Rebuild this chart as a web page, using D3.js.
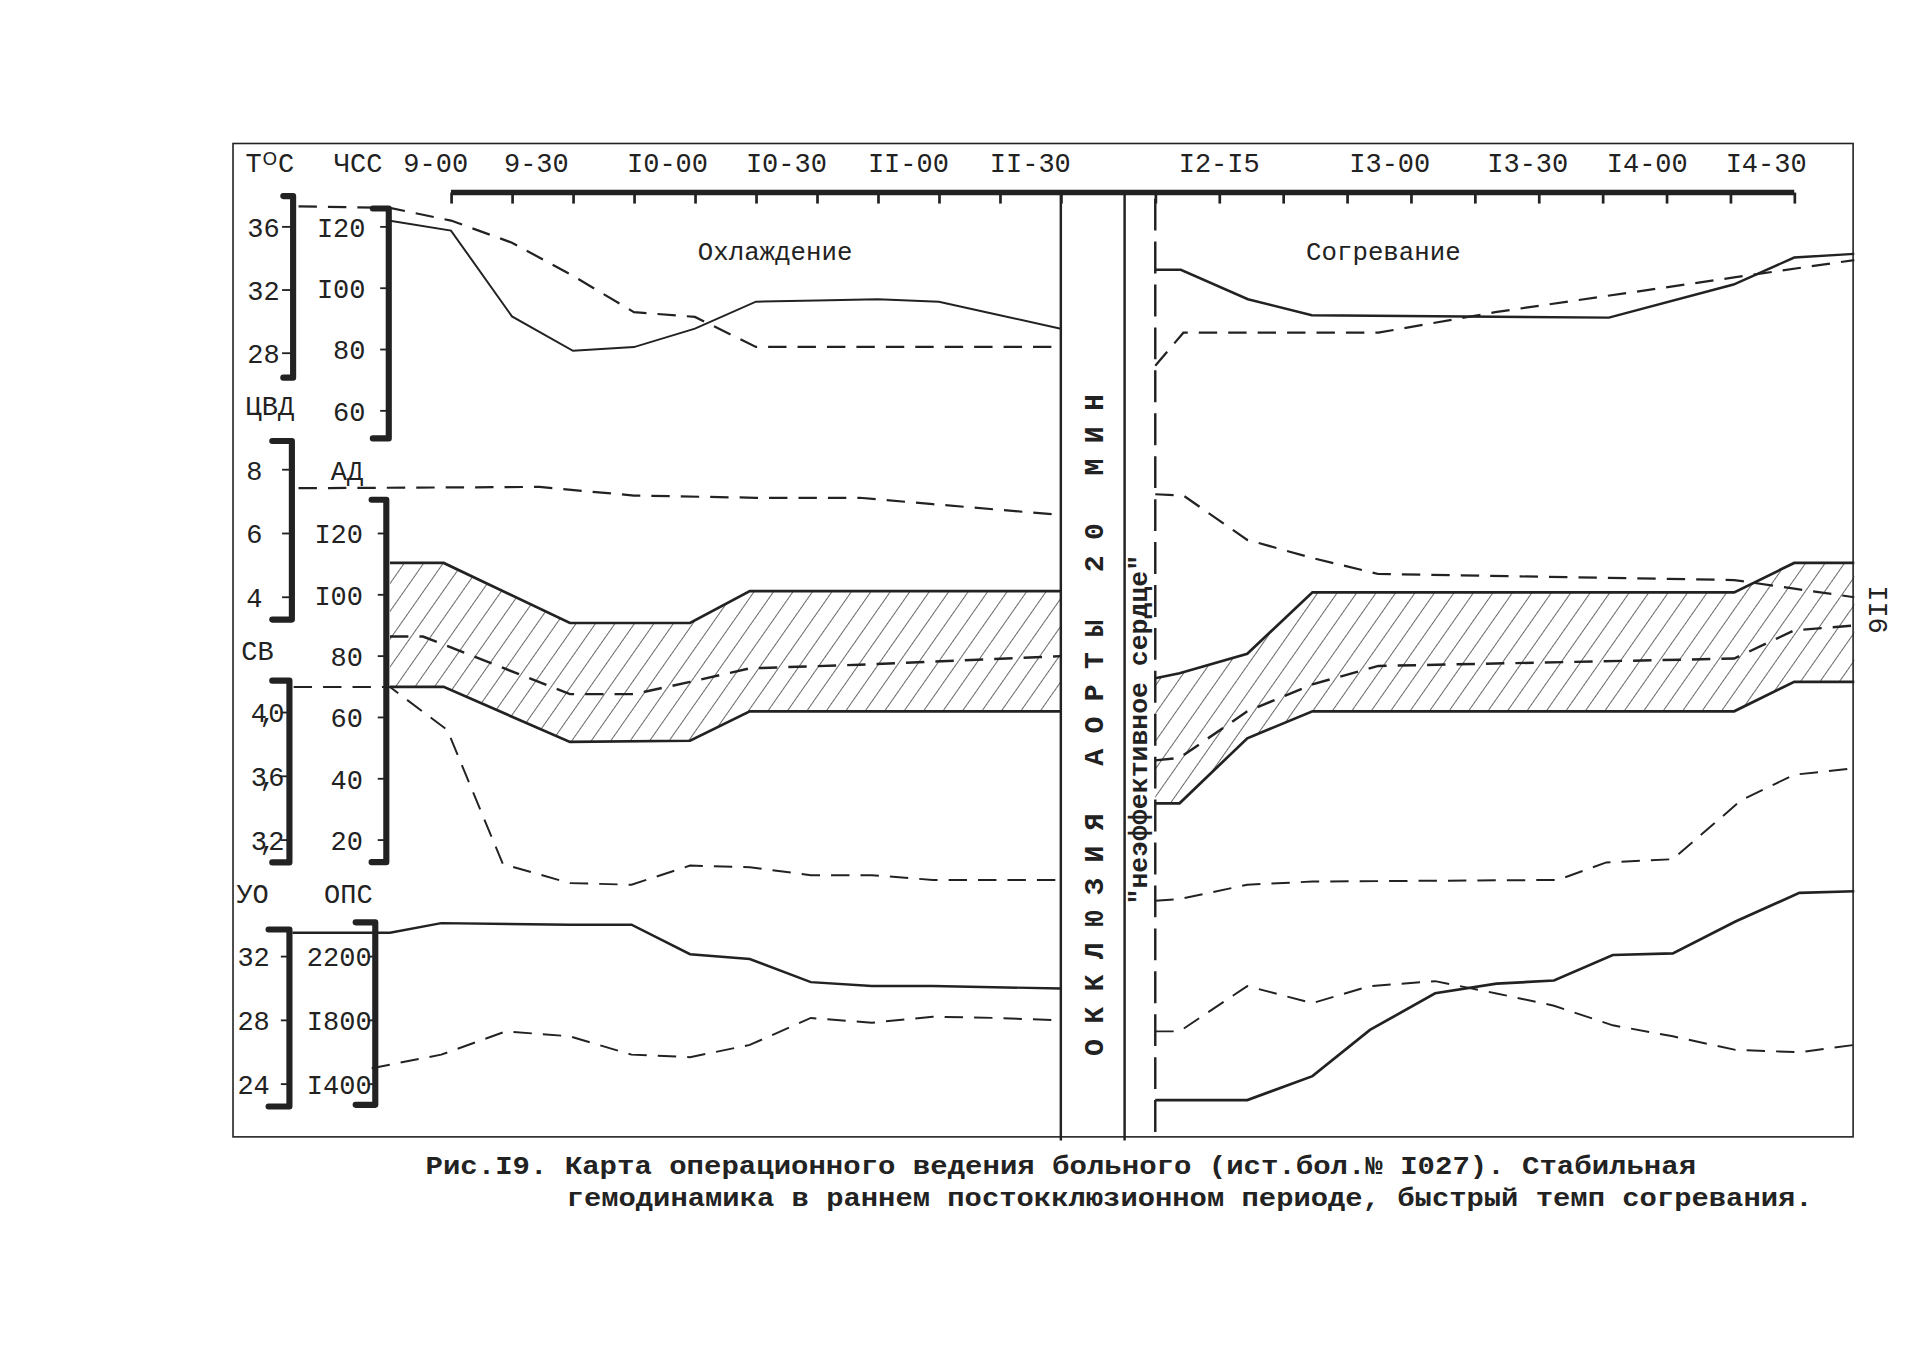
<!DOCTYPE html>
<html>
<head>
<meta charset="utf-8">
<script src="https://cdn.jsdelivr.net/npm/d3@7"></script>
<style>
  body { margin: 0; background: #fff; }
  text { font-family: "Liberation Mono", "DejaVu Sans Mono", monospace; fill: #222; }
</style>
</head>
<body>
<div id="chart"></div>
<script>
// ----- data (x in tick units of each time axis, y in each parameter's own units) -----
const timeLabelsLeft = [["9-00", -0.25], ["9-30", 1.4], ["I0-00", 3.55], ["I0-30", 5.5], ["II-00", 7.5], ["II-30", 9.5]];
const timeLabelsRight = [["I2-I5", 1.0], ["I3-00", 3.67], ["I3-30", 5.83], ["I4-00", 7.7], ["I4-30", 9.56]];

// ЧСС (solid) and T°C (dashed)
const hrLeft = [[-1,122],[0,118.8],[1,90.8],[2,79.6],[3,80.8],[4,86.8],[5,95.6],[6,96],[7,96.4],[8,95.6],[9,91.2],[10,86.8]];
const hrRight = [[0,106],[0.4,106],[1.45,96.4],[2.45,91.2],[7.1,90.4],[9.05,101.2],[10,110],[10.94,111.2]];
const tempLeft = [[-2.5,37.3],[-1,37.2],[0,36.4],[1,35.0],[2,32.9],[3,30.6],[4,30.3],[5,28.4],[10,28.4]];
const tempRight = [[0,27.2],[0.44,29.3],[3.49,29.3],[5.32,30.6],[9.06,32.8],[10.94,33.9]];

// ЦВД (dashed)
const cvpLeft = [[-2.5,7.42],[1.45,7.46],[3,7.19],[5,7.12],[6.7,7.12],[7.9,6.92],[10,6.58]];
const cvpRight = [[0,7.23],[0.44,7.19],[1.44,5.8],[2.46,5.23],[3.49,4.73],[9.06,4.54],[10,4.27],[10.94,4.0]];

// АД: systolic / diastolic band and mean (dashed)
const sysLeft = [[-1,110.4],[-0.12,110.4],[1.95,90.8],[3.92,90.8],[4.9,101.2],[10,101.2]];
const diaLeft = [[-1,70],[-0.12,70],[1.95,52],[3.92,52.4],[4.9,62],[10,62]];
const meanLeft = [[-1,86.4],[-0.46,86.4],[1.95,67.6],[3,67.6],[3.92,71.6],[4.9,76],[6.7,77.2],[10,80]];
const sysRight = [[0,72.8],[0.38,74.4],[1.44,80.8],[2.46,100.8],[9.06,100.8],[10,110.4],[10.94,110.4]];
const diaRight = [[0,32],[0.38,32],[1.44,53.2],[2.46,62],[9.06,62],[10,71.6],[10.94,71.6]];
const meanRight = [[0,46],[0.38,46.8],[1.44,62],[2.46,70.8],[3.49,76.8],[9.06,79.2],[10,88.4],[10.94,90]];

// СВ (dashed)
const svLeft = [[-2.58,41.6],[-1,41.6],[-0.06,38.9],[0.85,30.5],[1.95,29.3],[2.96,29.2],[3.92,30.4],[4.9,30.3],[5.9,29.8],[6.9,29.8],[7.9,29.5],[10,29.5]];
const svRight = [[0,28.2],[0.38,28.3],[1.44,29.2],[2.46,29.4],[6.3,29.5],[7.06,30.6],[8.1,30.8],[9.17,34.5],[10,36.1],[10.94,36.5]];

// УО (solid) and ОПС (dashed)
const svolLeft = [[-2.6,33.5],[-1,33.5],[-0.16,34.1],[1.95,34],[2.96,34],[3.92,32.15],[4.9,31.85],[5.9,30.4],[6.9,30.15],[7.9,30.15],[10,30]];
const svolRight = [[0,23],[1.44,23],[2.46,24.5],[3.36,27.4],[4.38,29.7],[5.34,30.3],[6.24,30.5],[7.16,32.1],[8.1,32.2],[9.08,34.2],[10.08,36],[10.94,36.1]];
const opsLeft = [[-1.3,1500],[-0.16,1585],[0.9,1731],[1.95,1700],[2.96,1585],[3.92,1569],[4.9,1646],[5.9,1815],[6.9,1785],[7.9,1823],[8.95,1815],[10,1800]];
const opsRight = [[0,1731],[0.38,1731],[1.44,2015],[2.46,1908],[3.36,2015],[4.38,2046],[5.34,1969],[6.24,1892],[7.16,1769],[8.1,1700],[9.08,1615],[10.08,1600],[10.94,1646]];

const caption1 = "Рис.I9. Карта операционного ведения больного (ист.бол.№ I027). Стабильная";
const caption2 = "гемодинамика в раннем постокклюзионном периоде, быстрый темп согревания.";

// ----- layout -----
const W = 1568, H = 1350 / (1923 / 1568);
const svg = d3.select("#chart").append("svg")
    .attr("width", 1923).attr("height", 1350)
    .attr("viewBox", `0 0 ${W} ${H}`);

const ink = "#222";
const xL = d3.scaleLinear().domain([-1, 10]).range([318, 865]);
const xR = d3.scaleLinear().domain([0, 10]).range([942, 1463]);

const yHR = d3.scaleLinear().domain([60, 120]).range([335, 185]);
const yT = d3.scaleLinear().domain([28, 36]).range([288, 185]);
const yCVP = d3.scaleLinear().domain([4, 8]).range([487, 383]);
const yBP = d3.scaleLinear().domain([20, 120]).range([685, 435]);
const ySV = d3.scaleLinear().domain([32, 40]).range([685, 581]);
const yUO = d3.scaleLinear().domain([24, 32]).range([884, 780]);
const yOPS = d3.scaleLinear().domain([1400, 2200]).range([884, 780]);

// hatch pattern
const defs = svg.append("defs");
defs.append("pattern")
    .attr("id", "hatch").attr("patternUnits", "userSpaceOnUse")
    .attr("width", 13).attr("height", 13)
    .attr("patternTransform", "rotate(35)")
    .append("line").attr("x1", 0).attr("y1", 0).attr("x2", 0).attr("y2", 13)
    .attr("stroke", ink).attr("stroke-width", 1.1);

// frame
svg.append("rect").attr("x", 190).attr("y", 117).attr("width", 1321).attr("height", 810)
    .attr("fill", "none").attr("stroke", ink).attr("stroke-width", 1.3);

// time axes
[xL, xR].forEach(x => {
    svg.append("g")
        .attr("transform", "translate(0,157)")
        .call(d3.axisBottom(x).tickValues(d3.range(0, 11)).tickSize(9).tickFormat(""))
        .call(g => g.select(".domain").remove())
        .call(g => g.selectAll("line").attr("stroke", ink).attr("stroke-width", 2.2));
});
svg.append("line").attr("x1", xL(0)).attr("x2", xR(10)).attr("y1", 157).attr("y2", 157)
    .attr("stroke", ink).attr("stroke-width", 4.5);

svg.selectAll(".tl").data(timeLabelsLeft).enter().append("text")
    .attr("x", d => xL(d[1])).attr("y", 140).attr("text-anchor", "middle")
    .attr("font-size", 22).text(d => d[0]);
svg.selectAll(".tr").data(timeLabelsRight).enter().append("text")
    .attr("x", d => xR(d[1])).attr("y", 140).attr("text-anchor", "middle")
    .attr("font-size", 22).text(d => d[0]);

// occlusion divider
svg.append("line").attr("x1", 865).attr("x2", 865).attr("y1", 157).attr("y2", 930).attr("stroke", ink).attr("stroke-width", 2);
svg.append("line").attr("x1", 917).attr("x2", 917).attr("y1", 157).attr("y2", 930).attr("stroke", ink).attr("stroke-width", 2);
svg.append("line").attr("x1", xR(0)).attr("x2", xR(0)).attr("y1", 162).attr("y2", 930)
    .attr("stroke", ink).attr("stroke-width", 2).attr("stroke-dasharray", "26,9");

svg.append("text").attr("transform", "translate(899,585) rotate(-90)")
    .attr("text-anchor", "middle").attr("font-size", 23).attr("letter-spacing", 12.5)
    .attr("font-weight", "bold").text("ОККЛЮЗИЯ АОРТЫ 20 МИН");
svg.append("text").attr("transform", "translate(935,595) rotate(-90)")
    .attr("text-anchor", "middle").attr("font-size", 21).attr("font-family", "DejaVu Sans")
    .attr("font-weight", "bold").attr("textLength", 285).attr("lengthAdjust", "spacingAndGlyphs")
    .text("\"неэффективное сердце\"");

// brackets and left scales
function bracket(y, v0, v1, x0, x1) {
    svg.append("path")
        .attr("d", `M${x0},${y(v0)}H${x1}V${y(v1)}H${x0}`)
        .attr("fill", "none").attr("stroke", ink).attr("stroke-width", 5)
        .attr("stroke-linecap", "round").attr("stroke-linejoin", "round");
}
function scaleLabels(y, values, fmt, xText, xTick, spacing) {
    const g = svg.append("g");
    g.selectAll("text").data(values).enter().append("text")
        .attr("x", xText).attr("y", d => y(d) + 8).attr("text-anchor", "end")
        .attr("letter-spacing", spacing || 0)
        .attr("font-size", 22).text(fmt);
    g.selectAll("line").data(values).enter().append("line")
        .attr("x1", xTick).attr("x2", xTick + 7).attr("y1", d => y(d)).attr("y2", d => y(d))
        .attr("stroke", ink).attr("stroke-width", 1.5);
}
const romanOne = d => String(d).replace(/1/g, "I");

bracket(yT, 37.95, 26.45, 231, 239);
scaleLabels(yT, [36, 32, 28], d => d, 228, 230);
bracket(yHR, 126, 51, 304, 317);
scaleLabels(yHR, [120, 100, 80, 60], romanOne, 298, 310);

bracket(yCVP, 8.9, 3.3, 222, 238);
scaleLabels(yCVP, [8, 6, 4], d => d, 214, 230);
bracket(yBP, 131, 12.8, 303, 315);
scaleLabels(yBP, [120, 100, 80, 60, 40, 20], romanOne, 296, 308);

bracket(ySV, 42, 30.6, 222, 236);
scaleLabels(ySV, [40, 36, 32], d => (d / 10).toFixed(1).replace(".", ","), 226, 229, -6);

bracket(yUO, 33.7, 22.6, 219, 236);
scaleLabels(yUO, [32, 28, 24], d => d, 220, 229);
bracket(yOPS, 2415, 1270, 290, 306);
scaleLabels(yOPS, [2200, 1800, 1400], romanOne, 303, 300);

// parameter names
const names = [["TᴼC", 220, 140], ["ЧСС", 292, 140], ["ЦВД", 220, 338], ["АД", 283, 391],
               ["СВ", 210, 538], ["УО", 206, 736], ["ОПС", 284, 736]];
svg.selectAll(".nm").data(names).enter().append("text")
    .attr("x", d => d[1]).attr("y", d => d[2]).attr("text-anchor", "middle")
    .attr("font-size", 22).text(d => d[0]);

svg.append("text").attr("x", 632).attr("y", 212).attr("text-anchor", "middle")
    .attr("font-size", 21).text("Охлаждение");
svg.append("text").attr("x", 1128).attr("y", 212).attr("text-anchor", "middle")
    .attr("font-size", 21).text("Согревание");
svg.append("text").attr("transform", "translate(1524,497) rotate(90)")
    .attr("text-anchor", "middle").attr("font-size", 22).text("II6");

// BP bands
function band(x, sys, dia) {
    const pts = sys.map(d => [x(d[0]), yBP(d[1])]).concat(dia.slice().reverse().map(d => [x(d[0]), yBP(d[1])]));
    svg.append("path").attr("d", "M" + pts.join("L") + "Z").attr("fill", "url(#hatch)");
}
band(xL, sysLeft, diaLeft);
band(xR, sysRight, diaRight);

// series lines
function series(data, x, y, dashed, width) {
    svg.append("path").datum(data)
        .attr("d", d3.line().x(d => x(d[0])).y(d => y(d[1])))
        .attr("fill", "none").attr("stroke", ink)
        .attr("stroke-width", width || 1.8)
        .attr("stroke-dasharray", dashed ? "15,9" : null);
}
series(hrLeft, xL, yHR, false, 1.6);
series(hrRight, xR, yHR, false, 2);
series(tempLeft, xL, yT, true);
series(tempRight, xR, yT, true);
series(cvpLeft, xL, yCVP, true);
series(cvpRight, xR, yCVP, true);
series(sysLeft, xL, yBP, false, 2.2);
series(diaLeft, xL, yBP, false, 2.2);
series(sysRight, xR, yBP, false, 2.2);
series(diaRight, xR, yBP, false, 2.2);
series(meanLeft, xL, yBP, true, 2);
series(meanRight, xR, yBP, true, 2);
series(svLeft, xL, ySV, true, 1.6);
series(svRight, xR, ySV, true, 1.6);
series(svolLeft, xL, yUO, false, 2);
series(svolRight, xR, yUO, false, 2.2);
series(opsLeft, xL, yOPS, true, 1.6);
series(opsRight, xR, yOPS, true, 1.6);

// caption
svg.append("text").attr("x", 347).attr("y", 957).attr("font-size", 21).attr("font-weight", "bold")
    .attr("textLength", 1036).attr("lengthAdjust", "spacingAndGlyphs").text(caption1);
svg.append("text").attr("x", 462).attr("y", 983).attr("font-size", 21).attr("font-weight", "bold")
    .attr("textLength", 1016).attr("lengthAdjust", "spacingAndGlyphs").text(caption2);
</script>
</body>
</html>
